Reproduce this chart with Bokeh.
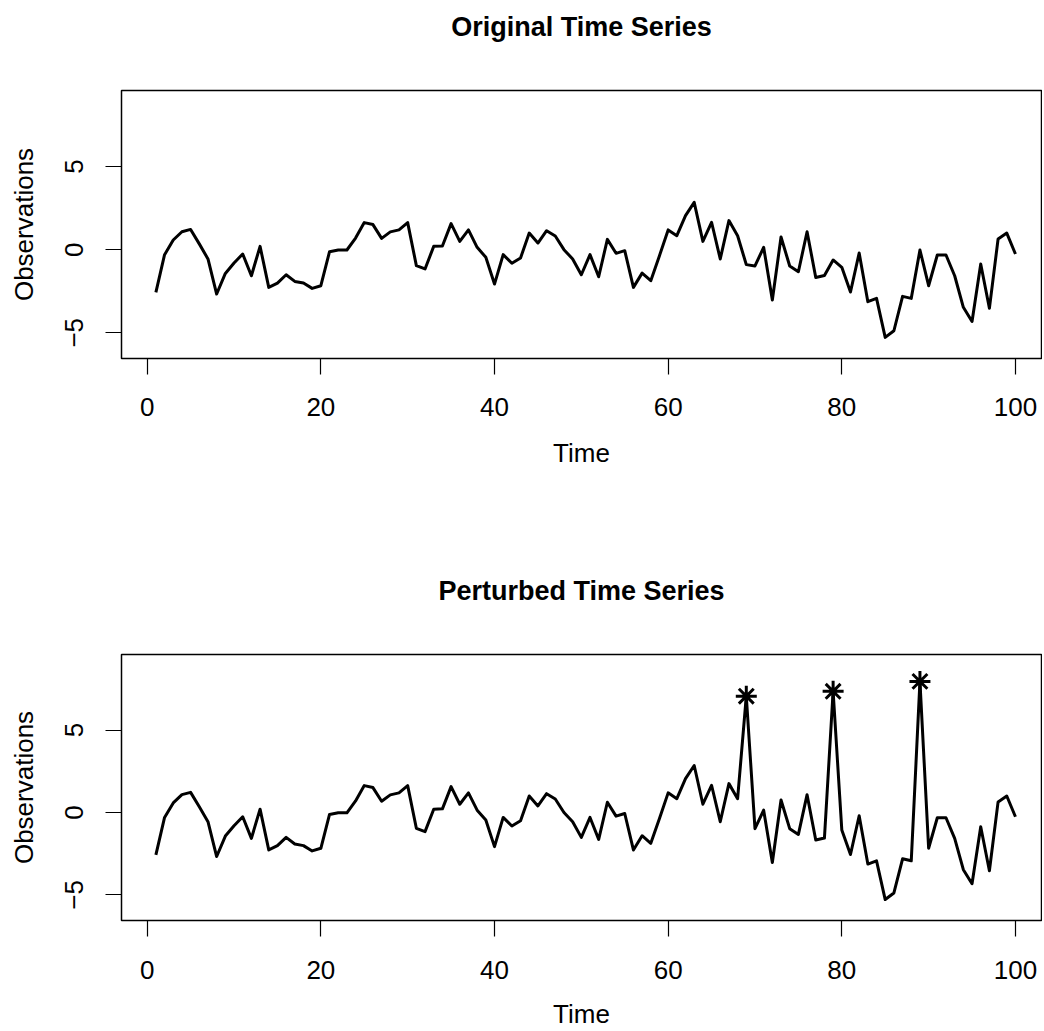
from bokeh.plotting import figure
from bokeh.layouts import column
from bokeh.models import FixedTicker, Range1d, LinearAxis
from bokeh.embed import file_html
from bokeh.resources import INLINE

# ---- data ----
time = list(range(1, 101))
original = [
    -2.57, -0.30, 0.58, 1.08, 1.22, 0.35, -0.56, -2.67, -1.43, -0.80,
    -0.26, -1.57, 0.20, -2.27, -2.01, -1.51, -1.91, -2.01, -2.33, -2.17,
    -0.12, -0.02, -0.02, 0.70, 1.63, 1.51, 0.68, 1.07, 1.19, 1.63,
    -0.96, -1.16, 0.20, 0.22, 1.57, 0.50, 1.19, 0.14, -0.46, -2.07,
    -0.30, -0.82, -0.50, 1.00, 0.40, 1.14, 0.82, 0.00, -0.56, -1.51,
    -0.30, -1.63, 0.62, -0.22, -0.06, -2.27, -1.41, -1.87, -0.36, 1.19,
    0.84, 2.05, 2.85, 0.50, 1.65, -0.56, 1.75, 0.84, -0.90, -0.98,
    0.14, -3.03, 0.76, -0.98, -1.33, 1.08, -1.67, -1.55, -0.62, -1.06,
    -2.55, -0.20, -3.13, -2.93, -5.28, -4.88, -2.81, -2.93, -0.02, -2.17,
    -0.32, -0.32, -1.57, -3.47, -4.32, -0.86, -3.53, 0.64, 1.00, -0.26,
]
outlier_times = [69, 79, 89]
outlier_values = [7.05, 7.35, 7.95]
perturbed = [outlier_values[outlier_times.index(t)] if t in outlier_times else v
             for t, v in zip(time, original)]

x_ticks = [0, 20, 40, 60, 80, 100]
x_tick_labels = ["0", "20", "40", "60", "80", "100"]
y_ticks = [-5, 0, 5]
y_tick_labels = ["\u22125", "0", "5"]

titles = ["Original Time Series", "Perturbed Time Series"]
x_label = "Time"
y_label = "Observations"

FONT = "Liberation Sans"
FRAME_H = 268
TOP = 90
LEFT = 121


def make_panel(title, yvals, height, tick_standoff, label_standoff):
    p = figure(width=1042, height=height,
               x_range=Range1d(-2.96, 103.0), y_range=Range1d(-6.55, 9.58),
               output_backend="svg", toolbar_location=None,
               min_border_left=LEFT, min_border_right=1, min_border_top=TOP,
               min_border_bottom=height - TOP - FRAME_H,
               background_fill_color="white", border_fill_color="white",
               outline_line_color="black", outline_line_width=1.5)

    p.xgrid.visible = False
    p.ygrid.visible = False

    for ax in (p.xaxis[0], p.yaxis[0]):
        ax.axis_line_color = None
        ax.major_tick_in = 0
        ax.major_tick_out = 16
        ax.major_tick_line_color = "black"
        ax.major_tick_line_width = 1.2
        ax.minor_tick_line_color = None
        ax.major_label_text_font = FONT
        ax.major_label_text_font_size = "26px"
        ax.major_label_text_color = "black"
        ax.axis_label_text_font = FONT
        ax.axis_label_text_font_size = "26px"
        ax.axis_label_text_font_style = "normal"
        ax.axis_label_text_color = "black"

    p.xaxis.ticker = FixedTicker(ticks=x_ticks)
    p.xaxis.major_label_overrides = dict(zip(x_ticks, x_tick_labels))
    p.xaxis.axis_label = x_label
    p.xaxis.major_label_standoff = tick_standoff
    p.xaxis.axis_label_standoff = label_standoff

    p.yaxis.ticker = FixedTicker(ticks=y_ticks)
    p.yaxis.major_label_overrides = dict(zip(y_ticks, y_tick_labels))
    p.yaxis.major_label_orientation = "vertical"
    p.yaxis.axis_label = y_label
    p.yaxis.major_label_standoff = 22
    p.yaxis.axis_label_standoff = 24

    # bold panel title, carried by a tick-less axis above the frame
    title_axis = LinearAxis(ticker=FixedTicker(ticks=[]), axis_label=title,
                            axis_line_color=None, major_tick_in=0, major_tick_out=0,
                            minor_tick_line_color=None, major_label_standoff=0,
                            axis_label_standoff=49,
                            axis_label_text_font=FONT, axis_label_text_font_size="27px",
                            axis_label_text_font_style="bold",
                            axis_label_text_color="black")
    p.add_layout(title_axis, "above")

    p.line(time, yvals, line_color="black", line_width=3, line_join="round")
    return p


p1 = make_panel(titles[0], original, 564, 23, 19)
p2 = make_panel(titles[1], perturbed, 467, 24, 17)
p2.scatter(outlier_times, outlier_values, marker="asterisk", size=21,
           line_color="black", line_width=3)

layout = column(p1, p2, spacing=0)

with open("out.html", "w") as f:
    f.write(file_html(layout, INLINE))
